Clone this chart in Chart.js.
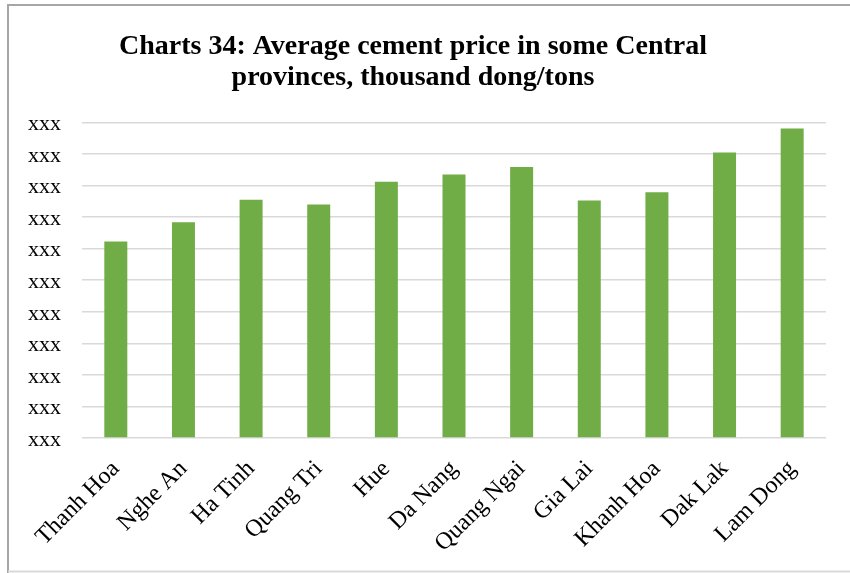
<!DOCTYPE html>
<html>
<head>
<meta charset="utf-8">
<script src="https://cdn.jsdelivr.net/npm/chart.js@4/dist/chart.umd.min.js"></script>
<style>
  html, body { margin: 0; padding: 0; background: #fff; }
  #wrap { width: 850px; height: 573px; position: relative; }
</style>
</head>
<body>
<div id="wrap"><canvas id="chart" width="850" height="573"></canvas></div>
<script>
// Provinces and average price index per province
const provinces = ["Thanh Hoa", "Nghe An", "Ha Tinh", "Quang Tri", "Hue", "Da Nang",
                   "Quang Ngai", "Gia Lai", "Khanh Hoa", "Dak Lak", "Lam Dong"];
const prices = [6.23, 6.84, 7.55, 7.40, 8.12, 8.35, 8.59, 7.53, 7.79, 9.05, 9.81];
// Value axis ticks are masked in the source
const yTickLabels = ["xxx", "xxx", "xxx", "xxx", "xxx", "xxx", "xxx", "xxx", "xxx", "xxx", "xxx"];

const titleLines = ["Charts 34: Average cement price in some Central",
                    "provinces, thousand dong/tons"];

// Frame around the chart object
const framePlugin = {
  id: "frame",
  beforeDraw(chart) {
    const c = chart.ctx;
    c.save();
    c.fillStyle = "#fff";
    c.fillRect(0, 0, chart.width, chart.height);
    c.lineWidth = 2;
    c.strokeStyle = "#a6a6a6";
    c.beginPath();
    c.moveTo(8, chart.height);
    c.lineTo(8, 5);
    c.lineTo(chart.width, 5);
    c.stroke();
    c.strokeStyle = "#d9d9d9";
    c.beginPath();
    c.moveTo(8, 571.5);
    c.lineTo(chart.width, 571.5);
    c.stroke();
    c.restore();
  }
};

new Chart(document.getElementById("chart"), {
  type: "bar",
  data: {
    labels: provinces,
    datasets: [{
      data: prices,
      backgroundColor: "#70ad47",
      barPercentage: 0.68,
      categoryPercentage: 0.5,
    }]
  },
  options: {
    responsive: false,
    animation: false,
    layout: { padding: { left: 0, right: 24, top: 0, bottom: 0 } },
    plugins: {
      legend: { display: false },
      tooltip: { enabled: false },
      title: {
        display: true,
        text: titleLines,
        color: "#000",
        font: { family: "'Liberation Serif', serif", size: 28, weight: "bold", lineHeight: 1.08 },
        padding: { top: 32, bottom: 30 }
      }
    },
    scales: {
      y: {
        min: 0, max: 10,
        afterFit: s => { s.width = 82; },
        border: { display: false },
        grid: { color: "#d9d9d9", lineWidth: 1.5, drawTicks: false },
        ticks: {
          stepSize: 1,
          padding: 21,
          labelOffset: 2,
          color: "#000",
          font: { family: "'Liberation Serif', serif", size: 22 },
          callback: (v, i) => yTickLabels[i]
        }
      },
      x: {
        afterFit: s => { s.height = 135; },
        border: { display: false },
        grid: { display: false },
        ticks: {
          minRotation: 45, maxRotation: 45,
          padding: 9,
          color: "#000",
          font: { family: "'Liberation Serif', serif", size: 24 }
        }
      }
    }
  },
  plugins: [framePlugin]
});
</script>
</body>
</html>
